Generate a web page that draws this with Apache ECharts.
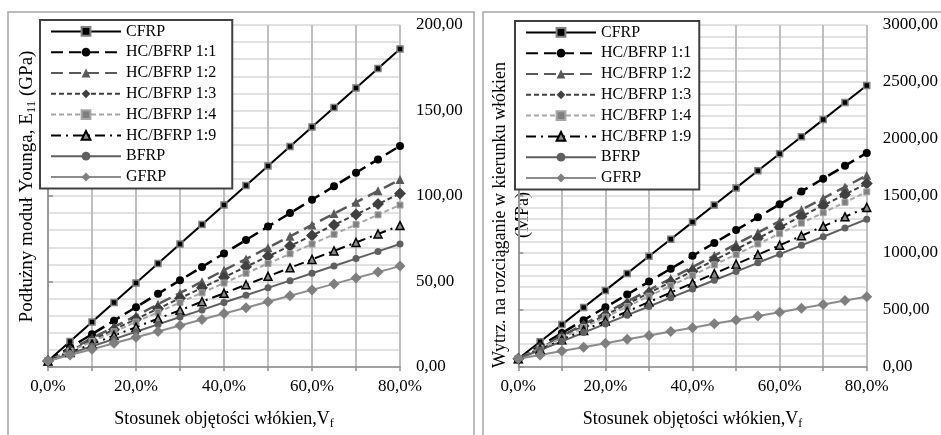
<!DOCTYPE html>
<html><head><meta charset="utf-8">
<script src="https://cdn.jsdelivr.net/npm/echarts@6/dist/echarts.min.js"></script>
<style>html,body{margin:0;padding:0;background:#fff}#c{width:941px;height:435px}</style>
</head><body><div id="c"></div>
<script>
// ---------- DATA ----------
const volumeFractions = [0, 0.05, 0.10, 0.15, 0.20, 0.25, 0.30, 0.35, 0.40, 0.45, 0.50, 0.55, 0.60, 0.65, 0.70, 0.75, 0.80];
const seriesNames = ['CFRP', 'HC/BFRP 1:1', 'HC/BFRP 1:2', 'HC/BFRP 1:3', 'HC/BFRP 1:4', 'HC/BFRP 1:9', 'BFRP', 'GFRP'];

// Left chart: longitudinal Young's modulus E11 (GPa)
const modulusCFRP  = [3.5, 14.9, 26.3, 37.7, 49.1, 60.5, 71.9, 83.4, 94.8, 106.2, 117.6, 129.0, 140.4, 151.8, 163.2, 174.6, 186.0];
const modulusHC11  = [3.5, 11.4, 19.2, 27.1, 35.0, 42.8, 50.7, 58.5, 66.4, 74.3, 82.1, 90.0, 97.8, 105.7, 113.6, 121.4, 129.3];
const modulusHC12  = [3.5, 10.1, 16.8, 23.4, 30.0, 36.7, 43.3, 49.9, 56.6, 63.2, 69.8, 76.4, 83.1, 89.7, 96.3, 103.0, 109.6];
const modulusHC13  = [3.5, 9.6, 15.7, 21.9, 28.0, 34.1, 40.2, 46.3, 52.5, 58.6, 64.7, 70.8, 76.9, 83.1, 89.2, 95.3, 101.4];
const modulusHC14  = [3.5, 9.2, 14.9, 20.6, 26.3, 32.0, 37.7, 43.4, 49.1, 54.8, 60.5, 66.2, 71.9, 77.6, 83.3, 89.0, 94.7];
const modulusHC19  = [3.5, 8.5, 13.4, 18.4, 23.3, 28.3, 33.2, 38.2, 43.1, 48.1, 53.0, 58.0, 62.9, 67.9, 72.8, 77.8, 82.7];
const modulusBFRP  = [3.5, 7.8, 12.1, 16.3, 20.6, 24.9, 29.2, 33.4, 37.7, 42.0, 46.3, 50.5, 54.8, 59.1, 63.4, 67.6, 71.9];
const modulusGFRP  = [3.5, 7.0, 10.4, 13.9, 17.4, 20.8, 24.3, 27.8, 31.3, 34.7, 38.2, 41.7, 45.1, 48.6, 52.1, 55.5, 59.0];

// Right chart: tensile strength along fibres (MPa)
const strengthCFRP = [72, 222, 372, 522, 672, 821, 971, 1121, 1271, 1421, 1571, 1721, 1871, 2020, 2170, 2320, 2470];
const strengthHC11 = [72, 185, 298, 411, 524, 636, 749, 862, 975, 1088, 1201, 1314, 1427, 1540, 1652, 1765, 1878];
const strengthHC12 = [72, 173, 273, 374, 474, 575, 675, 776, 877, 977, 1078, 1178, 1279, 1379, 1480, 1580, 1681];
const strengthHC13 = [72, 168, 264, 360, 456, 553, 649, 745, 841, 937, 1033, 1129, 1225, 1321, 1417, 1513, 1609];
const strengthHC14 = [72, 164, 255, 347, 438, 530, 621, 713, 804, 896, 987, 1079, 1170, 1262, 1353, 1445, 1536];
const strengthHC19 = [72, 155, 238, 321, 404, 487, 570, 653, 736, 819, 902, 985, 1068, 1151, 1234, 1317, 1400];
const strengthBFRP = [72, 149, 225, 302, 378, 455, 531, 608, 684, 761, 837, 914, 990, 1067, 1143, 1220, 1296];
const strengthGFRP = [72, 106, 140, 174, 208, 243, 277, 311, 345, 379, 413, 447, 481, 515, 549, 584, 617];

const modulusSets  = [modulusCFRP, modulusHC11, modulusHC12, modulusHC13, modulusHC14, modulusHC19, modulusBFRP, modulusGFRP];
const strengthSets = [strengthCFRP, strengthHC11, strengthHC12, strengthHC13, strengthHC14, strengthHC19, strengthBFRP, strengthGFRP];

// ---------- STYLES ----------
const FONT = 'Liberation Serif';
const styles = [
  { color: '#000000', width: 2,   type: 'solid',       symbol: 'rect',     size: 6,  fill: '#000000', border: '#7f7f7f', bw: 1.5 },
  { color: '#000000', width: 2.5, type: [12, 6],       symbol: 'circle',   size: 8,  fill: '#000000', border: '#000000', bw: 0 },
  { color: '#595959', width: 2.5, type: [12, 6],       symbol: 'triangle', size: 9,  fill: '#595959', border: '#595959', bw: 0 },
  { color: '#404040', width: 2,   type: [5, 3],        symbol: 'diamond',  size: 12, fill: '#404040', border: '#404040', bw: 0 },
  { color: '#a6a6a6', width: 2,   type: [5, 3],        symbol: 'rect',     size: 6,  fill: '#7f7f7f', border: '#a6a6a6', bw: 1 },
  { color: '#000000', width: 2,   type: [10, 5, 2, 5], symbol: 'triangle', size: 8,  fill: '#8a8a8a', border: '#000000', bw: 1.5 },
  { color: '#5f5f5f', width: 2,   type: 'solid',       symbol: 'circle',   size: 7,  fill: '#5f5f5f', border: '#5f5f5f', bw: 0 },
  { color: '#8c8c8c', width: 2,   type: 'solid',       symbol: 'diamond',  size: 11, fill: '#7f7f7f', border: '#8c8c8c', bw: 0 }
];

function makeSeries(sets, gridIdx, yIdx) {
  return seriesNames.map((name, i) => ({
    name: name,
    type: 'line',
    xAxisIndex: gridIdx,
    yAxisIndex: yIdx,
    data: volumeFractions.map((v, k) => [v, sets[i][k]]),
    symbol: styles[i].symbol,
    symbolSize: styles[i].size,
    showAllSymbol: true,
    animation: false,
    lineStyle: { color: styles[i].color, width: styles[i].width, type: styles[i].type },
    itemStyle: { color: styles[i].fill, borderColor: styles[i].border, borderWidth: styles[i].bw, opacity: 1 },
    emphasis: { disabled: true }
  }));
}

const pctFmt = v => { const k = Math.round(v * 100); return k % 20 === 0 ? k.toFixed(1).replace('.', ',') + '%' : ''; };
const numFmt = v => v.toFixed(2).replace('.', ',');

function xAxisDef(gridIdx) {
  return {
    type: 'value', gridIndex: gridIdx, min: 0, max: 0.8, interval: 0.1,
    axisLine: { show: true, lineStyle: { color: '#8c8c8c', width: 1.5 } },
    axisTick: { show: true, length: 4, lineStyle: { color: '#8c8c8c', width: 1.5 } },
    axisLabel: { formatter: pctFmt, fontFamily: FONT, fontSize: 17, color: '#000', margin: 11 },
    splitLine: { show: true, lineStyle: { color: '#bfbfbf', width: 2 } },
    name: '{t|Stosunek objętości włókien,V}{s|f}',
    nameLocation: 'middle', nameGap: 41,
    nameTextStyle: { rich: {
      t: { fontFamily: FONT, fontSize: 18, color: '#000', lineHeight: 22 },
      s: { fontFamily: FONT, fontSize: 12, color: '#000', lineHeight: 12, verticalAlign: 'bottom' }
    } }
  };
}

function yLabelAxis(gridIdx, max, interval) {
  return {
    type: 'value', gridIndex: gridIdx, position: 'right', min: 0, max: max, interval: interval,
    axisLine: { show: false }, axisTick: { show: false },
    axisLabel: { formatter: numFmt, fontFamily: FONT, fontSize: 17, color: '#000', margin: 16 },
    splitLine: { show: true, lineStyle: { color: '#d9d9d9', width: 1.5 } },
    minorTick: { show: false, splitNumber: 5 },
    minorSplitLine: { show: true, lineStyle: { color: '#d9d9d9', width: 1.5 } }
  };
}

function yFrameAxis(gridIdx, max, interval) {
  return {
    type: 'value', gridIndex: gridIdx, position: 'left', min: 0, max: max, interval: interval,
    axisLine: { show: true, lineStyle: { color: '#8c8c8c', width: 1.5 } },
    axisTick: { show: true, inside: true, length: 5, lineStyle: { color: '#8c8c8c', width: 1.5 } },
    axisLabel: { show: false },
    splitLine: { show: false }
  };
}

function legendDef(left, top, padRight) {
  return {
    data: seriesNames, orient: 'vertical', left: left, top: top,
    itemWidth: 70, itemHeight: 11, itemGap: 0, itemTextGap: 7,
    padding: [1, padRight, 1, 10],
    backgroundColor: '#fff', borderColor: '#404040', borderWidth: 2,
    textStyle: { fontFamily: FONT, fontSize: 16, color: '#000', lineHeight: 20.8 },
    selectedMode: false
  };
}

const chart = echarts.init(document.getElementById('c'), null, { renderer: 'canvas' });
chart.setOption({
  backgroundColor: '#fff',
  animation: false,
  graphic: [
    { type: 'rect', silent: true, z: -10, shape: { x: 8, y: 12, width: 466, height: 440 }, style: { fill: 'none', stroke: '#a6a6a6', lineWidth: 1.5 } },
    { type: 'rect', silent: true, z: -10, shape: { x: 483, y: 12, width: 480, height: 440 }, style: { fill: 'none', stroke: '#a6a6a6', lineWidth: 1.5 } },
    { type: 'text', silent: true, x: 27, y: 186.5, rotation: Math.PI / 2,
      style: { text: '{t|Podłużny moduł Younga, E}{s|11}{t| (GPa)}', align: 'center', verticalAlign: 'middle',
        rich: {
          t: { fontFamily: FONT, fontSize: 19, fill: '#000', lineHeight: 23 },
          s: { fontFamily: FONT, fontSize: 13, fill: '#000', lineHeight: 13, verticalAlign: 'bottom' }
        } } },
    { type: 'text', silent: true, x: 511.5, y: 215, rotation: Math.PI / 2,
      style: { text: 'Wytrz. na rozciąganie w kierunku włókien\n(MPa)', align: 'center', verticalAlign: 'middle',
        fontFamily: FONT, fontSize: 18, fill: '#000', lineHeight: 23 } }
  ],
  grid: [
    { left: 48, top: 25, width: 352, height: 345 },
    { left: 518.3, top: 25, width: 350, height: 345 }
  ],
  legend: [legendDef(40, 20, 16), legendDef(515, 21, 8)],
  xAxis: [xAxisDef(0), xAxisDef(1)],
  yAxis: [
    yLabelAxis(0, 200, 50),
    yFrameAxis(0, 200, 50),
    yLabelAxis(1, 3000, 500),
    yFrameAxis(1, 3000, 500)
  ],
  series: makeSeries(modulusSets, 0, 0).concat(makeSeries(strengthSets, 1, 2))
});
</script>
</body></html>
